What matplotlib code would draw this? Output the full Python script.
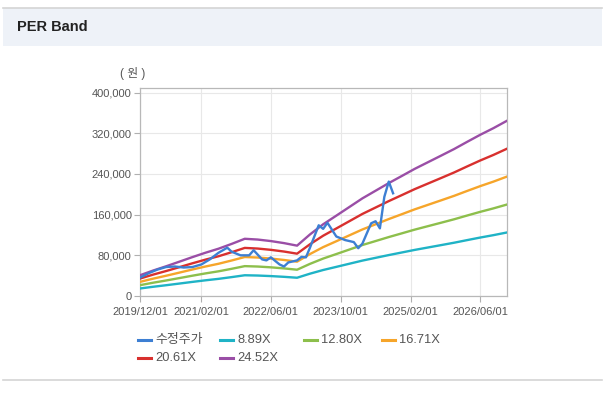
import numpy as np
import pandas as pd
import matplotlib
matplotlib.use('Agg')
import matplotlib.pyplot as plt
from matplotlib.patches import Rectangle
from matplotlib.lines import Line2D
from matplotlib.ticker import FuncFormatter

plt.rcParams['font.family'] = ['Liberation Sans', 'Noto Sans CJK KR', 'DejaVu Sans']

# quarterly EPS base (won)
eps_dates = ['2019-12-01', '2020-03-01', '2020-06-01', '2020-09-01', '2020-12-01',
             '2021-03-01', '2021-06-01', '2021-09-01', '2021-12-01', '2022-03-01',
             '2022-06-01', '2022-09-01', '2022-12-01', '2023-03-01', '2023-06-01',
             '2023-09-01', '2023-12-01', '2024-03-01', '2024-06-01', '2024-09-01',
             '2024-12-01', '2025-03-01', '2025-06-01', '2025-09-01', '2025-12-01',
             '2026-03-01', '2026-06-01', '2026-09-01', '2026-12-01']
eps = [1664, 2039, 2386, 2753, 3120, 3467, 3793, 4180, 4588, 4527,
       4405, 4241, 4038, 4935, 5750, 6444, 7137, 7830, 8442, 9054,
       9625, 10196, 10726, 11256, 11786, 12357, 12928, 13458, 14029]

multiples = [8.89, 12.80, 16.71, 20.61, 24.52]
band_labels = ['8.89X', '12.80X', '16.71X', '20.61X', '24.52X']
band_colors = ['#1fb3c6', '#8dbf4c', '#f6a52a', '#d8302e', '#9a4ea6']

# adjusted price (수정주가)
price_dates = ['2019-12-01', '2020-02-01', '2020-04-01', '2020-06-01', '2020-08-01',
               '2020-10-01', '2020-12-01', '2021-02-01', '2021-04-01', '2021-06-01',
               '2021-08-01', '2021-09-01', '2021-11-01', '2022-01-01', '2022-02-01',
               '2022-04-01', '2022-05-01', '2022-06-01', '2022-08-01', '2022-09-01',
               '2022-10-01', '2022-12-01', '2023-01-01', '2023-02-01', '2023-03-01',
               '2023-05-01', '2023-06-01', '2023-07-01', '2023-09-01', '2023-11-01',
               '2024-01-01', '2024-02-01', '2024-03-01', '2024-05-01', '2024-06-01',
               '2024-07-01', '2024-08-01', '2024-09-01', '2024-10-01']
price = [36000, 45000, 52000, 57000, 58000, 56000, 57000, 62000, 72000, 85000,
         95000, 87000, 80000, 80000, 90000, 72000, 70000, 76000, 62000, 58000,
         66000, 70000, 77000, 76000, 95000, 139000, 132000, 144000, 117000, 110000,
         106000, 94000, 103000, 143000, 147000, 133000, 195000, 225000, 202000]
price_label = '수정주가'
price_color = '#3d7fd3'

xticks = ['2019-12-01', '2021-02-01', '2022-06-01', '2023-10-01', '2025-02-01', '2026-06-01']
yticks = [0, 80000, 160000, 240000, 320000, 400000]

eps_x = pd.to_datetime(eps_dates)
price_x = pd.to_datetime(price_dates)
eps = np.array(eps)

fig = plt.figure(figsize=(6.14, 3.95), dpi=100)
W, H = 614, 395

# header band + frame lines
fig.patches.append(Rectangle((3/W, 1-46/H), 599/W, 38/H, transform=fig.transFigure,
                             facecolor='#eef2f8', edgecolor='none'))
fig.add_artist(Line2D([3/W, 602/W], [1-8/H, 1-8/H], color='#d4d4d4', lw=1.2))
fig.add_artist(Line2D([3/W, 602/W], [1-380/H, 1-380/H], color='#d4d4d4', lw=1.2))
fig.text(17/W, 1-27/H, 'PER Band', fontsize=10.5, fontweight='bold', color='#222222',
         va='center', ha='left')

ax = fig.add_axes([140/W, 99/H, 367/W, 208/H])
ax.plot(price_x, price, color=price_color, lw=1.7, zorder=4)
for m, c in zip(multiples, band_colors):
    ax.plot(eps_x, eps*m, color=c, lw=1.7, zorder=3)

ax.set_ylim(0, 409000)
ax.set_xlim(pd.Timestamp('2019-12-01'), pd.Timestamp('2026-12-05'))
ax.set_yticks(yticks)
ax.yaxis.set_major_formatter(FuncFormatter(lambda v, p: f'{int(v):,}'))
ax.set_xticks(pd.to_datetime(xticks))
ax.set_xticklabels([d.replace('-', '/') for d in xticks])
ax.tick_params(axis='both', labelsize=8, colors='#b0b0b0', labelcolor='#555555',
               length=4, width=0.8, direction='out', pad=2)
ax.tick_params(axis='x', pad=4)
ax.grid(True, color='#e8e8e8', lw=0.8)
ax.set_axisbelow(True)
for s in ax.spines.values():
    s.set_color('#b8b8b8')
    s.set_linewidth(0.9)

fig.text(133/W, 1-74/H, '( 원 )', fontsize=8.5, color='#555555', ha='center', va='center')

# legend: fixed slots like the original widget
leg_labels = [price_label] + band_labels
leg_colors = [price_color] + band_colors
slots = [(138, 340), (220, 340), (304, 340), (382, 340), (138, 358), (220, 358)]
for (sx, sy), lab, c in zip(slots, leg_labels, leg_colors):
    fig.add_artist(Line2D([sx/W, (sx+13)/W], [1-sy/H, 1-sy/H], color=c, lw=2.2))
    fig.text((sx+17)/W, 1-sy/H, lab, fontsize=9.3, color='#555555', ha='left', va='center')

fig.savefig('out.png', dpi=100, facecolor='white')
